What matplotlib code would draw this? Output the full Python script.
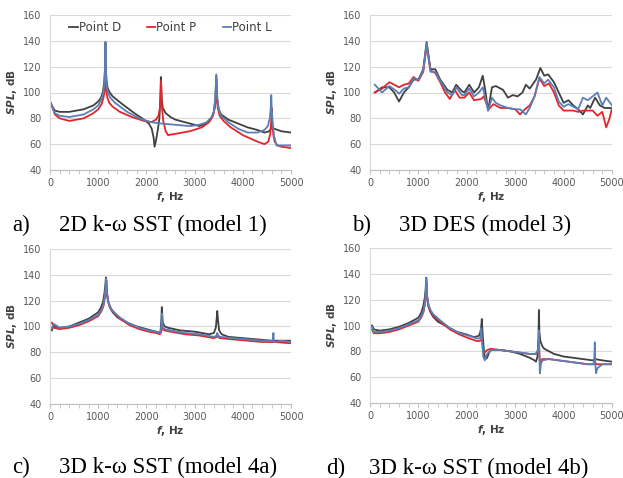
import matplotlib
matplotlib.use("Agg")
import matplotlib.pyplot as plt
from matplotlib.ticker import MultipleLocator

plt.rcParams["mathtext.fontset"] = "custom"
plt.rcParams["mathtext.bfit"] = "DejaVu Sans:italic:bold"
plt.rcParams["mathtext.bf"] = "DejaVu Sans:bold"

series_names = ["Point D", "Point P", "Point L"]
series_colors = ["#404040", "#e0262b", "#5b7fb5"]
captions = ["a)", "b)", "c)", "d)"]
titles = ["2D k-\u03c9 SST (model 1)", "3D DES (model 3)",
          "3D k-\u03c9 SST (model 4a)", "3D k-\u03c9 SST (model 4b)"]

# a) 2D k-w SST (model 1)
f_a_D = [20, 100, 200, 400, 700, 900, 1000, 1060, 1100, 1125, 1140, 1150, 1160, 1175, 1200, 1240, 1300, 1500,
         1750, 1950, 2050, 2110, 2150, 2170, 2200, 2240, 2270, 2290, 2300, 2315, 2340, 2400, 2500, 2600, 2900,
         3100, 3250, 3350, 3400, 3430, 3450, 3470, 3500, 3550, 3700, 3900, 4100, 4300, 4450, 4550, 4600,
         4650, 4800, 5000]
spl_a_D = [91, 86, 85, 85, 87, 90, 93, 96, 101, 108, 118, 139, 118, 108, 103, 100, 97, 91,
           84, 79, 76, 72, 65, 58, 63, 72, 80, 95, 112, 96, 88, 84, 81, 79, 76,
           74, 76, 80, 85, 95, 113, 95, 87, 83, 79, 76, 73, 71, 69, 70, 73,
           72, 70, 69]
f_a_P = [20, 100, 200, 400, 700, 900, 1000, 1070, 1110, 1135, 1150, 1165, 1190, 1230, 1300, 1450, 1700, 1950,
         2100, 2200, 2250, 2280, 2295, 2305, 2320, 2350, 2400, 2450, 2600, 2900, 3150, 3300, 3380, 3420,
         3440, 3450, 3460, 3480, 3520, 3600, 3750, 4000, 4300, 4450, 4530, 4570, 4590, 4600, 4610, 4630,
         4660, 4720, 4800, 5000]
spl_a_P = [92, 83, 80, 78, 80, 84, 87, 91, 96, 102, 110, 102, 96, 92, 89, 85, 81, 78,
           77, 79, 82, 88, 100, 109, 90, 78, 70, 67, 68, 70, 73, 77, 82, 88,
           96, 110, 96, 88, 82, 78, 73, 67, 62, 60, 62, 68, 78, 88, 78, 68,
           62, 59, 58, 57]
f_a_L = [20, 100, 200, 400, 700, 900, 1000, 1060, 1100, 1125, 1140, 1150, 1160, 1175, 1200, 1250, 1350, 1600,
         1850, 2100, 2300, 2600, 2900, 3100, 3250, 3350, 3400, 3430, 3450, 3470, 3500, 3550, 3700, 3900,
         4100, 4300, 4450, 4520, 4560, 4580, 4590, 4600, 4620, 4650, 4700, 5000]
spl_a_L = [91, 84, 82, 81, 83, 87, 90, 94, 99, 106, 116, 139, 116, 106, 100, 96, 92, 85,
           80, 77, 76, 75, 74, 75, 77, 81, 85, 96, 114, 96, 87, 82, 77, 72,
           69, 69, 71, 74, 80, 88, 98, 88, 76, 66, 59, 59]

# b) 3D DES (model 3)
f_b_D = [100, 250, 400, 500, 600, 700, 800, 900, 1000, 1100, 1170, 1250, 1350, 1450, 1600, 1700, 1780, 1900,
         1950, 2050, 2150, 2250, 2330, 2380, 2440, 2520, 2600, 2750, 2850, 2950, 3050, 3150, 3220, 3300,
         3430, 3520, 3600, 3680, 3800, 3900, 4000, 4100, 4200, 4300, 4400, 4500, 4550, 4650, 4750, 4850, 5000]
spl_b_D = [100, 104, 104, 100, 93, 100, 104, 110, 110, 118, 139, 118, 118, 110, 102, 100, 106, 101,
           100, 106, 100, 104, 113, 102, 86, 104, 105, 102, 96, 98, 97, 100, 106, 103,
           110, 119, 113, 114, 108, 100, 92, 94, 90, 87, 83, 90, 88, 96, 90, 88, 88]
f_b_P = [100, 250, 400, 550, 600, 700, 800, 900, 1000, 1100, 1170, 1250, 1350, 1450, 1550, 1650, 1750, 1850,
         1950, 2050, 2150, 2300, 2350, 2450, 2550, 2700, 2850, 3000, 3100, 3200, 3300, 3400, 3500, 3600,
         3700, 3800, 3900, 4000, 4200, 4300, 4400, 4500, 4600, 4700, 4800, 4880, 4950, 5000]
spl_b_P = [100, 103, 108, 105, 104, 106, 107, 112, 109, 116, 136, 117, 115, 108, 100, 95, 102, 96,
           96, 100, 94, 95, 97, 87, 91, 88, 88, 87, 83, 87, 90, 97, 111, 105,
           107, 100, 90, 86, 86, 85, 86, 86, 86, 82, 85, 73, 80, 88]
f_b_L = [100, 250, 400, 550, 600, 700, 800, 900, 1000, 1100, 1170, 1250, 1350, 1450, 1600, 1700, 1780, 1900,
         1950, 2050, 2150, 2250, 2330, 2380, 2440, 2520, 2600, 2700, 2850, 3000, 3100, 3220, 3300, 3400,
         3500, 3600, 3680, 3800, 3900, 4000, 4100, 4200, 4300, 4400, 4500, 4600, 4700, 4800, 4880, 5000]
spl_b_L = [106, 100, 105, 101, 99, 103, 104, 111, 110, 117, 138, 116, 116, 109, 100, 98, 104, 98,
           98, 103, 97, 100, 104, 96, 86, 96, 92, 90, 88, 87, 87, 83, 88, 97,
           112, 107, 110, 104, 93, 89, 91, 89, 87, 96, 94, 97, 100, 90, 96, 90]

# c) 3D k-w SST (model 4a)
f_c_D = [40, 70, 100, 200, 400, 600, 800, 1000, 1060, 1100, 1130, 1150, 1160, 1175, 1200, 1240, 1300, 1400,
         1600, 1800, 2000, 2200, 2290, 2310, 2320, 2340, 2380, 2450, 2700, 3000, 3300, 3400, 3440, 3460,
         3470, 3485, 3510, 3560, 3700, 4000, 4300, 4600, 4800, 5000]
spl_c_D = [97, 101, 100, 99, 100, 103, 106, 111, 115, 119, 126, 133, 138, 127, 120, 115, 111, 107,
           103, 100, 98, 96, 95, 105, 115, 103, 100, 99, 97, 96, 94, 95, 99, 107,
           112, 105, 97, 94, 92, 91, 90, 89, 89, 89]
f_c_P = [40, 80, 200, 400, 600, 800, 1000, 1070, 1110, 1140, 1160, 1170, 1185, 1210, 1250, 1300, 1450, 1650,
         1850, 2050, 2200, 2280, 2310, 2320, 2340, 2370, 2500, 2800, 3100, 3400, 3460, 3470, 3490, 3520,
         3800, 4100, 4400, 4650, 5000]
spl_c_P = [103, 99, 98, 99, 101, 104, 108, 112, 116, 123, 131, 136, 126, 119, 115, 112, 106, 101,
           98, 96, 95, 94, 96, 100, 98, 97, 96, 94, 93, 91, 92, 94, 92, 91,
           90, 89, 88, 88, 87]
f_c_L = [40, 80, 200, 400, 600, 800, 1000, 1070, 1110, 1140, 1155, 1165, 1180, 1210, 1250, 1300, 1450, 1650,
         1850, 2050, 2200, 2290, 2310, 2320, 2340, 2370, 2500, 2800, 3100, 3400, 3460, 3470, 3490, 3520,
         3800, 4100, 4400, 4620, 4635, 4645, 4660, 4800, 5000]
spl_c_L = [99, 102, 99, 100, 102, 105, 109, 113, 117, 124, 132, 137, 126, 119, 115, 112, 107, 102,
           99, 97, 96, 95, 100, 110, 99, 98, 97, 95, 94, 92, 93, 95, 93, 92,
           91, 90, 89, 89, 95, 89, 88, 89, 88]

# d) 3D k-w SST (model 4b)
f_d_D = [40, 80, 200, 400, 600, 800, 1000, 1060, 1100, 1130, 1150, 1160, 1175, 1200, 1240, 1300, 1400, 1600,
         1800, 2000, 2150, 2250, 2280, 2300, 2310, 2330, 2360, 2390, 2420, 2460, 2500, 2700, 2900, 3100,
         3300, 3400, 3430, 3460, 3480, 3490, 3500, 3520, 3560, 3600, 3800, 4000, 4200, 4400, 4600, 4650,
         4800, 5000]
spl_d_D = [100, 97, 96, 97, 99, 102, 106, 110, 115, 121, 128, 137, 124, 116, 111, 107, 103, 99,
           95, 93, 91, 92, 95, 100, 105, 92, 78, 74, 75, 79, 81, 81, 80, 78,
           75, 73, 72, 76, 90, 112, 95, 88, 84, 82, 78, 76, 75, 74, 73, 74,
           73, 72]
f_d_P = [40, 80, 200, 400, 600, 800, 1000, 1070, 1110, 1140, 1155, 1165, 1180, 1210, 1250, 1300, 1450, 1650,
         1850, 2050, 2200, 2270, 2300, 2310, 2320, 2340, 2370, 2420, 2500, 2700, 2900, 3100, 3300, 3420,
         3460, 3480, 3490, 3500, 3510, 3560, 3700, 3900, 4100, 4300, 4500, 4620, 4645, 4655, 4680, 4800, 5000]
spl_d_P = [97, 94, 94, 95, 97, 100, 103, 107, 111, 118, 126, 134, 122, 115, 111, 108, 103, 97,
           93, 90, 88, 88, 89, 91, 87, 80, 79, 81, 82, 81, 80, 79, 78, 78,
           79, 82, 88, 78, 72, 74, 74, 73, 72, 71, 70, 70, 75, 71, 70, 70, 70]
f_d_L = [40, 80, 200, 400, 600, 800, 1000, 1070, 1110, 1140, 1155, 1165, 1180, 1210, 1250, 1300, 1450, 1650,
         1850, 2050, 2200, 2270, 2290, 2300, 2315, 2340, 2370, 2420, 2500, 2700, 2900, 3100, 3300, 3420,
         3460, 3480, 3490, 3500, 3510, 3530, 3560, 3700, 3900, 4100, 4300, 4500, 4620, 4635, 4645, 4655,
         4670, 4700, 4800, 5000]
spl_d_L = [99, 95, 95, 96, 98, 101, 104, 108, 112, 119, 128, 137, 123, 116, 112, 109, 104, 98,
           94, 92, 90, 90, 92, 98, 88, 76, 73, 78, 81, 81, 80, 79, 78, 78,
           80, 84, 96, 75, 63, 70, 73, 74, 73, 72, 71, 70, 70, 75, 87, 70, 63, 67, 70, 70]

panels = [
    [(f_a_D, spl_a_D), (f_a_P, spl_a_P), (f_a_L, spl_a_L)],
    [(f_b_D, spl_b_D), (f_b_P, spl_b_P), (f_b_L, spl_b_L)],
    [(f_c_D, spl_c_D), (f_c_P, spl_c_P), (f_c_L, spl_c_L)],
    [(f_d_D, spl_d_D), (f_d_P, spl_d_P), (f_d_L, spl_d_L)],
]

W, H = 623, 478
fig = plt.figure(figsize=(W / 100, H / 100), dpi=100)

# axes boxes in pixels: left, top, right, bottom
boxes = [(50, 15, 291, 170), (370, 15, 612, 170), (50, 249, 291, 404), (370, 248, 612, 403)]
cap_pos = [(12, 59, 225), (352, 399, 225), (12, 59, 467), (326, 369, 468)]

tick_color = "#595959"
for i, (l, t, r, b) in enumerate(boxes):
    ax = fig.add_axes([l / W, 1 - b / H, (r - l) / W, (b - t) / H])
    for (f, s), name, c in zip(panels[i], series_names, series_colors):
        ax.plot(f, s, color=c, lw=1.3, label=name)
    ax.set_xlim(0, 5000)
    ax.set_ylim(40, 160)
    ax.xaxis.set_major_locator(MultipleLocator(1000))
    ax.xaxis.set_minor_locator(MultipleLocator(200))
    ax.yaxis.set_major_locator(MultipleLocator(20))
    ax.grid(axis="y", color="#d9d9d9", lw=0.8)
    ax.set_axisbelow(True)
    for sp in ["top", "right"]:
        ax.spines[sp].set_visible(False)
    ax.spines["left"].set_color("#d9d9d9")
    ax.spines["bottom"].set_color("#bfbfbf")
    ax.tick_params(axis="y", length=0, labelsize=7, labelcolor=tick_color, pad=6)
    ax.tick_params(axis="x", which="minor", length=3, color="#bfbfbf")
    ax.tick_params(axis="x", which="major", length=3, color="#bfbfbf", labelsize=7,
                   labelcolor=tick_color, pad=3)
    ax.set_xlabel(r"$\mathbfit{f}$, Hz", fontsize=7.5, fontweight="bold", color="#404040", labelpad=1)
    ax.set_ylabel(r"$\mathbfit{SPL}$, dB", fontsize=7.5, fontweight="bold", color="#404040", labelpad=3)
    if i == 0:
        ax.legend(loc="upper center", ncol=3, frameon=False, fontsize=8.5, handlelength=0.7,
                  handletextpad=0.1, columnspacing=2.2, bbox_to_anchor=(0.5, 1.03),
                  labelcolor="#404040")
    cx, tx, cy = cap_pos[i]
    fig.text(cx / W, 1 - cy / H, captions[i], family="Liberation Serif", fontsize=16.5, va="center")
    fig.text(tx / W, 1 - cy / H, titles[i], family="Liberation Serif", fontsize=16.5, va="center")

fig.savefig("out.png", dpi=100)
